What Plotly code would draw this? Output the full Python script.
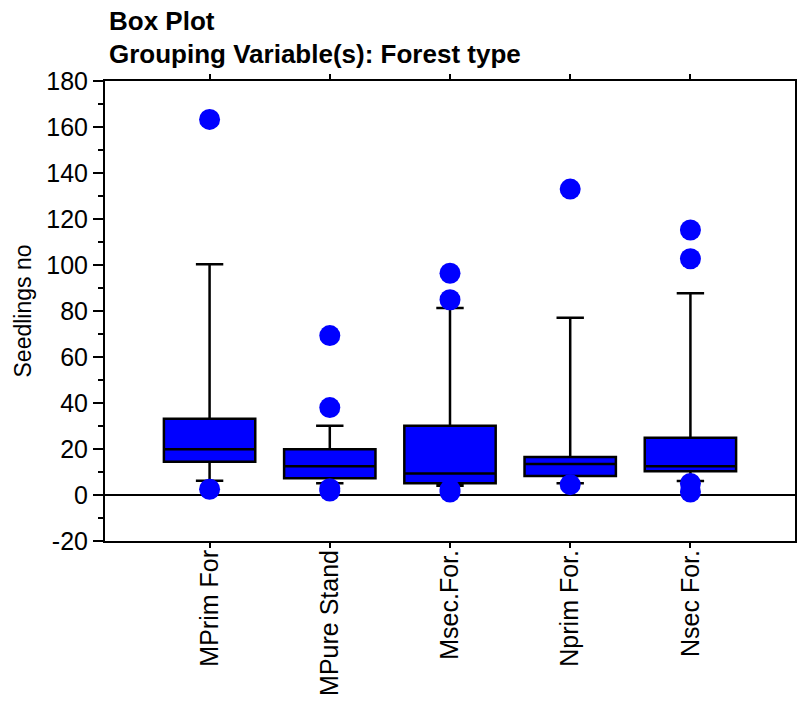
import plotly.graph_objects as go

categories = ["MPrim For", "MPure Stand", "Msec.For.", "Nprim For.", "Nsec For."]
q1_vals = [14.5, 7.3, 5.1, 8.3, 10.3]
median_vals = [19.9, 12.5, 9.3, 13.5, 12.5]
q3_vals = [33.2, 19.9, 30.1, 16.5, 24.9]
lower_whisker = [6.2, 5.1, 4.0, 5.1, 6.1]
upper_whisker = [100.3, 30.1, 81.3, 77.1, 87.7]

outlier_groups = ["MPrim For", "MPrim For",
                  "MPure Stand", "MPure Stand", "MPure Stand", "MPure Stand",
                  "Msec.For.", "Msec.For.", "Msec.For.", "Msec.For.",
                  "Nprim For.", "Nprim For.",
                  "Nsec For.", "Nsec For.", "Nsec For.", "Nsec For."]
outlier_values = [163.3, 2.5,
                  69.3, 38.0, 2.7, 1.7,
                  96.4, 84.9, 2.3, 1.3,
                  133.0, 4.5,
                  115.2, 102.7, 5.0, 1.3]

y_ticks = list(range(-20, 181, 20))
y_tick_labels = [str(v) for v in y_ticks]

fig = go.Figure()
fig.add_trace(go.Box(
    x=categories,
    q1=q1_vals, median=median_vals, q3=q3_vals,
    lowerfence=lower_whisker, upperfence=upper_whisker,
    fillcolor="#0000FF",
    line=dict(color="black", width=2.5),
    whiskerwidth=0.3,
    width=0.76,
    boxpoints=False,
    showlegend=False,
    hoverinfo="skip",
))
fig.add_trace(go.Scatter(
    x=outlier_groups, y=outlier_values, mode="markers",
    marker=dict(color="#0000FF", size=21, line=dict(width=0)),
    showlegend=False, hoverinfo="skip",
))

font_family = "Liberation Sans, Arial, sans-serif"

fig.update_layout(
    width=798, height=702,
    margin=dict(l=105, r=3, t=81, b=161, pad=0),
    paper_bgcolor="white", plot_bgcolor="white",
    font=dict(family=font_family, size=25, color="black"),
    showlegend=False,
    annotations=[
        dict(text="<b>Box Plot</b>", xref="paper", yref="paper", x=0.003, y=1.131,
             xanchor="left", yanchor="middle", showarrow=False,
             font=dict(size=26, family=font_family, color="black")),
        dict(text="<b>Grouping Variable(s): Forest type</b>", xref="paper", yref="paper",
             x=0.003, y=1.059, xanchor="left", yanchor="middle", showarrow=False,
             font=dict(size=26, family=font_family, color="black")),
    ],
)

fig.update_xaxes(
    type="category", categoryorder="array", categoryarray=categories,
    range=[-0.87, 4.87], automargin=False,
    showline=True, linecolor="black", linewidth=2, mirror="ticks",
    ticks="outside", ticklen=5, tickwidth=2, tickcolor="black",
    tickangle=-90, tickfont=dict(size=25), ticklabelstandoff=-8,
    showgrid=False, zeroline=False,
)
fig.update_yaxes(
    range=[-20, 180], tickvals=y_ticks, ticktext=y_tick_labels, automargin=False,
    showline=True, linecolor="black", linewidth=2, mirror=True,
    ticks="outside", ticklen=10, tickwidth=2, tickcolor="black",
    minor=dict(dtick=10, ticks="outside", ticklen=5, tickwidth=2, tickcolor="black", showgrid=False),
    showgrid=False,
    zeroline=True, zerolinecolor="black", zerolinewidth=2,
    tickfont=dict(size=25),
    title=dict(text="Seedlings no", font=dict(size=23), standoff=8),
)

fig.write_html("out.html", config={"displayModeBar": False},
               post_script="document.body.style.margin='0';")
